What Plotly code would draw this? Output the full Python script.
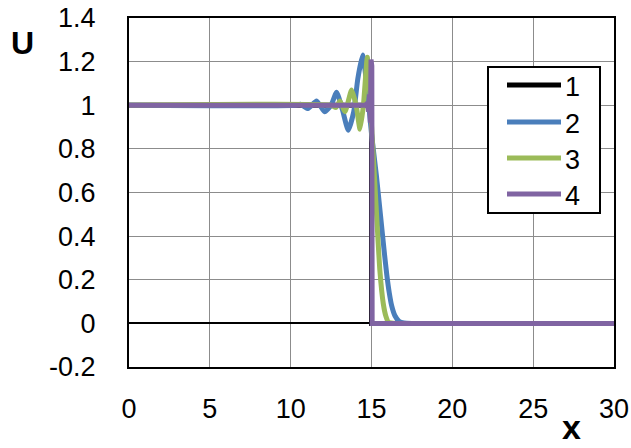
import plotly.graph_objects as go

# ---- data ----
x1 = [0, 15, 15, 30]
u1 = [1, 1, 0, 0]

x2 = [0, 10.3, 10.6, 11.07, 11.6, 12.1, 12.5, 12.84, 13.2, 13.56, 13.9, 14.15, 14.45,
      14.7, 15.0, 15.3, 15.55, 15.8, 15.95, 16.1, 16.25, 16.45, 16.7, 17.0, 17.5, 18.0, 30]
u2 = [1, 1, 1.005, 0.985, 1.02, 0.97, 1.0, 1.06, 0.98, 0.885, 0.97, 1.12, 1.23,
      1.1, 0.87, 0.68, 0.5, 0.32, 0.22, 0.14, 0.08, 0.035, 0.01, 0.002, 0, 0, 0]

x3 = [0, 12.5, 12.8, 13.05, 13.36, 13.77, 14.05, 14.29, 14.5, 14.74, 14.9, 15.05,
      15.2, 15.35, 15.52, 15.73, 15.9, 16.05, 16.5, 17.0, 30]
u3 = [1, 1, 0.99, 1.02, 0.97, 1.07, 1.0, 0.89, 1.0, 1.22, 1.05, 0.84,
      0.65, 0.45, 0.24, 0.09, 0.03, 0.005, 0, 0, 0]

x4 = [0, 14.6, 14.75, 14.82, 14.88, 14.93, 14.97, 15.02, 15.04, 30]
u4 = [1, 1, 1.01, 0.97, 1.05, 0.92, 1.21, 1.18, 0, 0]

names = ["1", "2", "3", "4"]
colors = ["#000000", "#4a7ebb", "#9bbb59", "#8064a2"]

xticks = [0, 5, 10, 15, 20, 25, 30]
yticks = [-0.2, 0, 0.2, 0.4, 0.6, 0.8, 1.0, 1.2, 1.4]
yticktext = ["-0.2", "0", "0.2", "0.4", "0.6", "0.8", "1", "1.2", "1.4"]

FONT = "Liberation Sans"
FS = 27
LW = 5

fig = go.Figure()
series = [(x1, u1, "linear"), (x2, u2, "spline"), (x3, u3, "spline"), (x4, u4, "linear")]
for (xs, us, shape), nm, c in zip(series, names, colors):
    line = dict(color=c, width=LW, shape=shape)
    if shape == "spline":
        line["smoothing"] = 0.5
    fig.add_trace(go.Scatter(x=xs, y=us, mode="lines", name=nm, line=line,
                             showlegend=False))

# manual legend box (paper coordinates)
L, R, B, T = 129, 614, 367, 18
def px(x): return (x - L) / (R - L)
def py(y): return (B - y) / (B - T)

shapes = [dict(type="rect", xref="paper", yref="paper",
               x0=px(488), x1=px(600), y0=py(213), y1=py(67),
               line=dict(color="black", width=2), fillcolor="white", layer="above")]
annots = []
rows = [85, 122, 158, 194]
for nm, c, ry in zip(names, colors, rows):
    shapes.append(dict(type="line", xref="paper", yref="paper",
                       x0=px(507), x1=px(561), y0=py(ry), y1=py(ry),
                       line=dict(color=c, width=LW), layer="above"))
    annots.append(dict(text=nm, xref="paper", yref="paper", x=px(563), y=py(ry + 2),
                       xanchor="left", yanchor="middle", showarrow=False,
                       font=dict(family=FONT, size=FS, color="black")))

annots.append(dict(text="<b>U</b>", xref="paper", yref="paper", x=px(22), y=py(43),
                   xanchor="center", yanchor="middle", showarrow=False,
                   font=dict(family=FONT, size=32, color="black")))
annots.append(dict(text="<b>x</b>", xref="paper", yref="paper", x=px(571), y=py(448),
                   xanchor="center", yanchor="bottom", showarrow=False,
                   font=dict(family=FONT, size=34, color="black")))

fig.update_layout(
    width=631, height=448,
    margin=dict(l=L, r=631 - R, t=T, b=448 - B, autoexpand=False),
    paper_bgcolor="white", plot_bgcolor="white",
    font=dict(family=FONT, size=FS, color="black"),
    shapes=shapes, annotations=annots,
    xaxis=dict(range=[0, 30], tickvals=xticks, ticks="", showgrid=True,
               gridcolor="#8c8c8c", gridwidth=1.2, zeroline=False, automargin=False,
               showline=True, linecolor="black", linewidth=2, mirror=True,
               ticklabelstandoff=17, tickfont=dict(family=FONT, size=FS)),
    yaxis=dict(range=[-0.2, 1.4], tickvals=yticks, ticktext=yticktext, ticks="",
               showgrid=True, gridcolor="#8c8c8c", gridwidth=1.2, automargin=False,
               zeroline=True, zerolinecolor="black", zerolinewidth=2,
               showline=True, linecolor="black", linewidth=2, mirror=True,
               ticklabelstandoff=26, tickfont=dict(family=FONT, size=FS)),
)

fig.write_html("out.html")
